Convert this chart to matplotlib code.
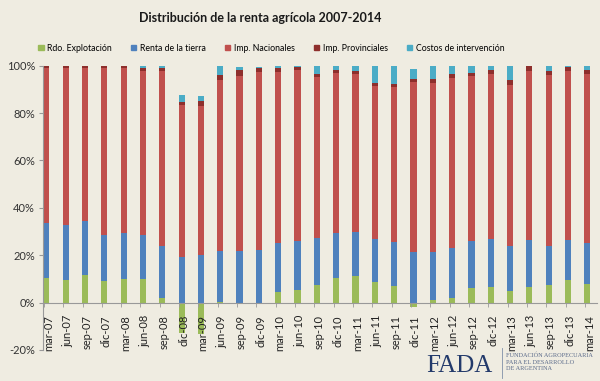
import numpy as np
import matplotlib.pyplot as plt
from matplotlib.patches import Patch

# Datos (en %)
periodos = ['mar-07', 'jun-07', 'sep-07', 'dic-07', 'mar-08', 'jun-08', 'sep-08', 'dic-08',
            'mar-09', 'jun-09', 'sep-09', 'dic-09', 'mar-10', 'jun-10', 'sep-10', 'dic-10',
            'mar-11', 'jun-11', 'sep-11', 'dic-11', 'mar-12', 'jun-12', 'sep-12', 'dic-12',
            'mar-13', 'jun-13', 'sep-13', 'dic-13', 'mar-14']
rdo = [10.3, 9.4, 11.5, 9.1, 9.9, 9.9, 2.0, -12.7, -13.1, 0.3, -0.5, -0.5, 4.3, 5.5, 7.4,
       10.3, 11.4, 8.9, 7.1, -1.7, 1.1, 2.1, 6.1, 6.4, 5.0, 6.4, 7.4, 9.7, 8.0]
renta = [23.2, 23.4, 22.8, 19.5, 19.5, 18.7, 21.7, 19.4, 20.1, 21.3, 21.8, 22.3, 20.8, 20.6, 19.8,
         19.1, 18.4, 17.9, 18.4, 21.3, 20.2, 21.0, 19.7, 20.4, 18.7, 20.1, 16.6, 16.8, 17.1]
imp_nac = [65.5, 66.2, 64.7, 70.4, 69.6, 69.3, 73.9, 64.1, 62.7, 72.5, 74.0, 74.9, 72.1, 72.1, 68.1,
           67.5, 66.7, 64.7, 65.5, 72.0, 71.5, 71.7, 70.0, 69.7, 68.1, 71.4, 71.9, 71.1, 71.6]
imp_prov = [1.0, 1.0, 1.0, 1.0, 1.0, 1.1, 1.4, 1.1, 2.4, 1.8, 2.4, 1.8, 1.8, 1.3, 1.3,
            1.1, 1.1, 1.3, 1.4, 1.2, 1.7, 1.5, 1.2, 1.7, 2.0, 1.8, 1.8, 1.9, 1.6]
costos = [0.0, 0.0, 0.0, 0.0, 0.0, 1.0, 1.0, 3.1, 2.1, 4.1, 1.3, 0.4, 1.0, 0.5, 3.4,
          2.0, 2.4, 7.2, 7.6, 4.1, 5.5, 3.7, 3.0, 1.8, 6.2, 0.3, 2.3, 0.5, 1.7]

series = ['Rdo. Explotación', 'Renta de la tierra', 'Imp. Nacionales', 'Imp. Provinciales',
          'Costos de intervención']
colores = ['#9BBB59', '#4F81BD', '#C0504D', '#8E2F2C', '#4BACC6']
fondo = '#EFECE1'

plt.rcParams['font.family'] = ['Lato', 'DejaVu Sans']

fig = plt.figure(figsize=(6, 3.81), dpi=100, facecolor=fondo)
ax = fig.add_axes([43.3 / 600, 1 - 350 / 381, (597 - 43.3) / 600, (350 - 65.7) / 381])
ax.set_facecolor(fondo)

# el eje x cruza en 0 (antes de configurar los ticks)
ax.spines['bottom'].set_position(('data', 0))
for s in ['top', 'right']:
    ax.spines[s].set_visible(False)
for s in ['left', 'bottom']:
    ax.spines[s].set_color('#999999')
    ax.spines[s].set_linewidth(0.8)

x = np.arange(len(periodos))
w = 0.32
rdo_a = np.array(rdo)
base = np.clip(rdo_a, 0, None)
ax.bar(x, rdo_a, w, color=colores[0])
for vals, col in zip([renta, imp_nac, imp_prov, costos], colores[1:]):
    ax.bar(x, vals, w, bottom=base, color=col)
    base = base + np.array(vals)

ax.set_xlim(-0.16, 28.5)
ax.set_ylim(-20, 100)
ax.set_yticks(np.arange(-20, 101, 20))
ax.set_yticklabels([f'{v}%' for v in range(-20, 101, 20)], fontsize=8, color='#333333')
ax.tick_params(axis='y', length=3, color='#999999', pad=3)

ax.set_xticks(x + 0.1)
ax.set_xticklabels(periodos, fontsize=8, color='#222222')
ax.tick_params(axis='x', which='major', length=0, pad=9, labelrotation=90)
ax.set_xticks(x - 0.13, minor=True)
ax.tick_params(axis='x', which='minor', length=3, color='#999999')

fig.text(0.434, 0.953, 'Distribución de la renta agrícola 2007-2014', ha='center', va='center',
         fontsize=9, fontweight='bold', color='#1a1a1a')

handles = [Patch(color=c) for c in colores]
fig.legend(handles, series, loc='center', bbox_to_anchor=(0.452, 0.874), ncol=5, frameon=False,
           fontsize=6.3, handlelength=0.6, handleheight=0.6, handletextpad=0.4, columnspacing=2.2)

# Logo FADA
fig.text(426 / 600, 1 - 372 / 381, 'FADA', fontsize=18, family='Liberation Serif',
         color='#233A6B', ha='left', va='baseline')
fig.add_artist(plt.Line2D([501.7 / 600, 501.7 / 600], [1 - 378 / 381, 1 - 348 / 381],
                          color='#8090A8', lw=0.6))
for i, t in enumerate(['FUNDACIÓN AGROPECUARIA', 'PARA EL DESARROLLO', 'DE ARGENTINA']):
    fig.text(506 / 600, 1 - (355.7 + 6.3 * i) / 381, t, fontsize=4.5, family='Liberation Serif',
             color='#5A6A8A', ha='left', va='center')

fig.savefig('out.png', dpi=100, facecolor=fondo)
